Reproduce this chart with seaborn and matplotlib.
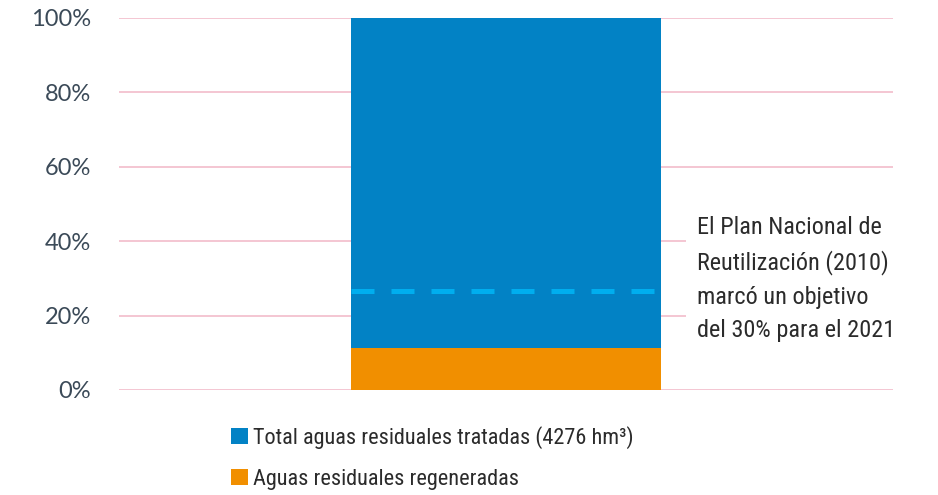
import matplotlib
matplotlib.use('Agg')
import matplotlib.pyplot as plt
from matplotlib import font_manager
from matplotlib.patches import Patch
from matplotlib.ticker import PercentFormatter
import seaborn as sns
import pandas as pd

# data
categories = ['Aguas residuales']
total_share = [1.0]
regenerated_share = [0.113]
target_share = 0.265
series_labels = ['Total aguas residuales tratadas (4276 hm³)', 'Aguas residuales regeneradas']
note = 'El Plan Nacional de\nReutilización (2010)\nmarcó un objetivo\ndel 30% para el 2021'

BLUE = '#0282c5'
ORANGE = '#f18f00'
DASH = '#00aeef'
GRID = '#f2bccb'
TICK = '#3b4a58'

installed = {f.name for f in font_manager.fontManager.ttflist}
narrow = [f for f in ['Roboto Condensed', 'Liberation Sans Narrow', 'DejaVu Sans Condensed'] if f in installed]
narrow_family = (narrow + ['Roboto', 'DejaVu Sans'])[:2]

sns.set_theme(style='white')
plt.rcParams['font.family'] = ['Lato', 'DejaVu Sans']

df = pd.DataFrame({'cat': categories, 'total': total_share, 'regen': regenerated_share})

fig = plt.figure(figsize=(9.38, 4.95), dpi=100)
ax = fig.add_axes([119 / 938, 105 / 495, 774 / 938, 372 / 495])

sns.barplot(data=df, x='cat', y='total', color=BLUE, width=0.4, saturation=1, linewidth=0, ax=ax)
sns.barplot(data=df, x='cat', y='regen', color=ORANGE, width=0.4, saturation=1, linewidth=0, ax=ax)

bar = ax.patches[0]
x0, x1 = bar.get_x(), bar.get_x() + bar.get_width()
ax.hlines(target_share, x0, x1, colors=DASH, linewidth=3.6, linestyles=(0, (4.6, 3.4)), zorder=5)

ax.set_xlim(-0.5, 0.5)
ax.set_ylim(0, 1)
ax.yaxis.set_major_formatter(PercentFormatter(1.0, decimals=0))
ax.set_yticks([0, 0.2, 0.4, 0.6, 0.8, 1.0])
ax.grid(axis='y', color=GRID, linewidth=1.2)
ax.set_axisbelow(True)
ax.set_xticks([])
ax.set_xlabel('')
ax.set_ylabel('')
for s in ax.spines.values():
    s.set_visible(False)
ax.tick_params(axis='y', length=0, pad=20, labelsize=17, labelcolor=TICK)

ax.text(0.747, 0.468, note, transform=ax.transAxes, ha='left', va='top',
        fontsize=17.5, color='#2b2b2b', family=narrow_family, linespacing=1.58,
        bbox=dict(boxstyle='square,pad=0.45', facecolor='white', edgecolor='none'),
        zorder=6)

handles = [Patch(facecolor=BLUE, edgecolor='none'), Patch(facecolor=ORANGE, edgecolor='none')]
leg = fig.legend(handles, series_labels, loc='upper left', bbox_to_anchor=(231 / 938, 1 - 426 / 495),
                 frameon=False, handlelength=0.75, handleheight=0.75,
                 handletextpad=0.25, labelspacing=0.9, borderpad=0, borderaxespad=0,
                 prop={'family': narrow_family, 'size': 16})
for t in leg.get_texts():
    t.set_color('#2b2b2b')

fig.savefig('out.png', dpi=100)
